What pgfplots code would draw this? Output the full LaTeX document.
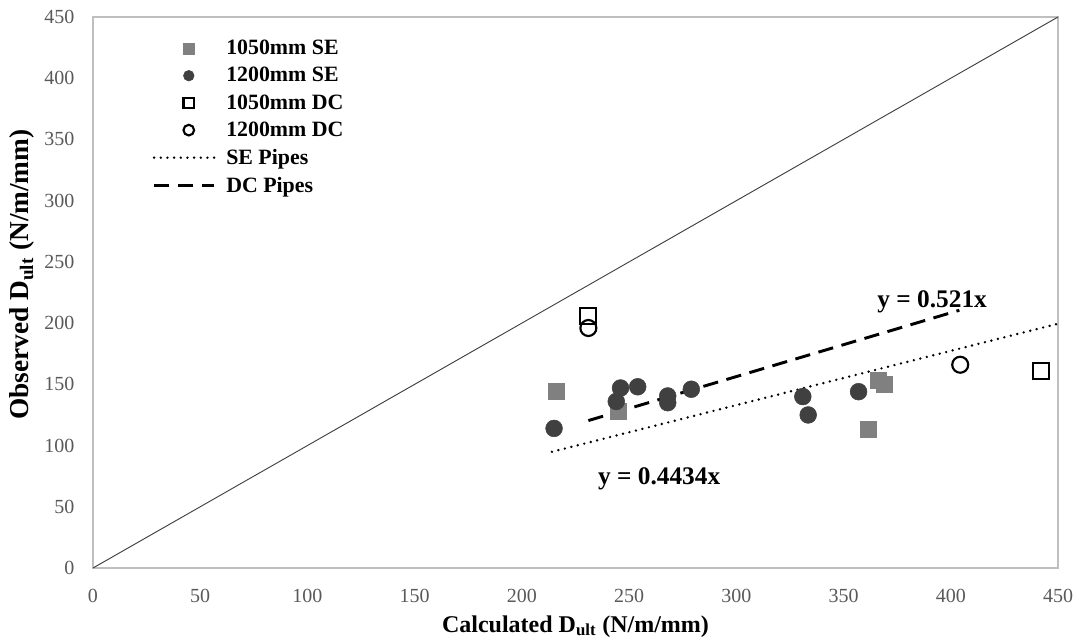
\documentclass[border=0pt]{standalone}
\usepackage{fontspec}
\setmainfont{Liberation Serif}
\usepackage{pgfplots}
\pgfplotsset{compat=1.18}
\definecolor{sqgray}{HTML}{808080}
\definecolor{dkgray}{HTML}{404040}
\definecolor{axgray}{HTML}{BFBFBF}
\definecolor{tickgray}{HTML}{595959}
\begin{document}
\begin{tikzpicture}
\begin{axis}[
  scale only axis,
  width=723.75pt, height=413.25pt,
  xmin=0, xmax=450, ymin=0, ymax=450,
  xtick={0,50,...,450}, ytick={0,50,...,450},
  major tick length=0pt,
  axis line style={axgray, line width=0.9pt},
  tick label style={font=\fontsize{15}{17}\selectfont, text=tickgray},
  xticklabel style={yshift=-12pt},
  yticklabel style={xshift=-10.5pt},
  /pgf/number format/assume math mode=true,
  xlabel={\textbf{Calculated D\textsubscript{ult} (N/m/mm)}},
  ylabel={\textbf{Observed D\textsubscript{ult} (N/m/mm)}},
  xlabel style={font=\fontsize{18}{20}\selectfont, yshift=-3pt},
  ylabel style={font=\fontsize{20.5}{22}\selectfont, yshift=0.25pt, xshift=13.5pt},
  legend cell align=left,
  legend style={draw=none, fill=none, at={(0.0574,0.968)}, anchor=north west,
    font=\fontsize{16.4}{18}\selectfont\bfseries, row sep=4pt,
    /tikz/every even column/.append style={column sep=2pt}},
  legend image code/.code={\draw[mark repeat=2,mark phase=2,#1,mark size=4pt] plot coordinates {(0pt,0pt) (26pt,0pt) (45pt,0pt)};\path (51pt,0pt);},
  clip=false,
]
\addplot[forget plot, dkgray, line width=0.7pt] coordinates {(0,0) (450,450)};
\addplot[only marks, mark=square*, mark size=6pt, sqgray, mark options={draw=sqgray, fill=sqgray}] coordinates {
(216,144.6) (245,128) (366,153) (369,150) (361.5,113.6)
};
\addlegendentry{1050mm SE}
\addplot[only marks, mark=*, mark size=6.3pt, dkgray, mark options={draw=dkgray, fill=dkgray}] coordinates {
(215,114) (246,147) (254,148) (244,136) (268,140.5) (268,135) (279,146) (331,140) (333.5,125) (357,144)
};
\addlegendentry{1200mm SE}
\addplot[only marks, mark=square, mark size=6pt, black, mark options={line width=1.6pt}] coordinates {
(231,206) (442,161)
};
\addlegendentry{1050mm DC}
\addplot[only marks, mark=o, mark size=6pt, black, mark options={line width=1.6pt}] coordinates {
(231,196) (404.4,166)
};
\addlegendentry{1200mm DC}
\addplot[black, line width=2pt, dash pattern=on 0pt off 5pt, line cap=round] coordinates {(214,94.9) (450,199.5)};
\addlegendentry{SE Pipes}
\addplot[black, line width=2.2pt, dash pattern=on 11.5pt off 6.5pt] coordinates {(231,120.4) (404,210.5)};
\addlegendentry{DC Pipes}
\node[font=\fontsize{19}{21}\selectfont\bfseries] at (axis cs:391.3,217.3) {y = 0.521x};
\node[font=\fontsize{19}{21}\selectfont\bfseries] at (axis cs:264,72.7) {y = 0.4434x};
\end{axis}
\pgfresetboundingbox
\path[use as bounding box] ([shift={(-69.75pt,-54pt)}]current axis.south west) rectangle ([shift={(15pt,12.75pt)}]current axis.north east);
\end{tikzpicture}
\end{document}
